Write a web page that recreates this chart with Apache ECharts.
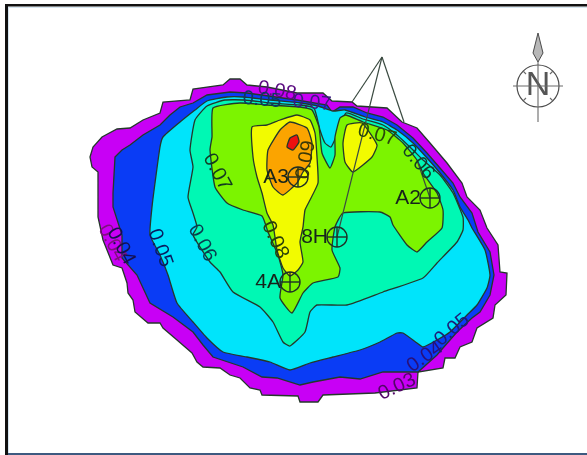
<!DOCTYPE html>
<html>
<head>
<meta charset="utf-8">
<style>
  html, body { margin: 0; background: #fff; }
  #main { width: 587px; height: 455px; filter: blur(0.5px); }
</style>
<script src="https://cdn.jsdelivr.net/npm/echarts@6/dist/echarts.min.js"></script>
</head>
<body>
<div id="main"></div>
<script>
// contour outlines, in map coordinates (x right, y down)
var band003 = [[90,157],[93,147],[102,137],[117,129],[130,128],[143,120],[160,113],[163,102],[190,100],[193,89],[223,85],[230,79],[240,79],[247,85],[267,87],[297,93],[323,93],[332,101],[352,102],[357,106],[387,108],[402,122],[417,128],[430,143],[447,163],[462,183],[467,197],[480,210],[487,228],[498,245],[500,272],[507,273],[506,295],[495,305],[493,318],[477,328],[472,342],[460,347],[455,358],[445,358],[443,368],[418,372],[417,388],[375,393],[323,395],[318,402],[300,402],[298,396],[262,395],[260,390],[250,388],[240,378],[230,375],[220,368],[203,367],[197,362],[192,353],[177,340],[163,328],[160,323],[148,323],[135,312],[133,300],[128,293],[127,283],[122,268],[113,265],[103,240],[98,217],[98,172],[92,167]];
var band004 = [[115,157],[122,150],[130,145],[143,135],[160,125],[170,115],[180,107],[193,103],[207,95],[230,92],[247,93],[297,100],[327,105],[332,112],[340,107],[353,107],[367,113],[383,117],[397,125],[413,138],[427,153],[440,168],[453,183],[460,197],[472,213],[478,232],[490,252],[494,275],[490,295],[480,312],[472,318],[457,332],[443,348],[437,355],[418,372],[407,372],[383,372],[360,379],[340,377],[313,382],[300,385],[277,378],[262,377],[243,367],[213,357],[203,345],[193,332],[173,317],[150,303],[137,275],[122,258],[122,235],[113,207],[113,193]];
var band005 = [[160,147],[163,137],[180,122],[195,110],[207,101],[227,97],[243,97],[270,100],[300,103],[318,106],[333,111],[345,110],[365,117],[383,122],[397,130],[413,143],[427,158],[440,173],[453,190],[460,207],[468,220],[472,228],[485,250],[490,275],[487,288],[477,305],[467,315],[450,332],[437,340],[423,347],[417,343],[403,333],[397,333],[380,342],[360,350],[333,357],[310,363],[290,370],[270,362],[247,357],[223,352],[207,338],[193,322],[177,303],[168,275],[160,255],[150,235],[152,207],[155,183]];
var band006 = [[195,120],[207,106],[225,100],[245,100],[270,103],[300,105],[314,108],[320,130],[325,143],[331,147],[336,137],[346,113],[363,119],[383,125],[397,135],[413,150],[423,160],[440,175],[453,193],[463,217],[463,230],[457,242],[437,263],[423,278],[383,292],[347,305],[317,305],[310,312],[305,332],[290,346],[283,342],[273,322],[260,307],[233,292],[220,272],[210,262],[193,235],[197,227],[193,213],[188,197],[193,167],[190,150]];
var band007 = [[213,108],[240,103],[267,105],[300,107],[312,110],[319,127],[322,153],[330,168],[335,155],[335,137],[340,118],[346,115],[363,122],[387,130],[403,143],[417,160],[423,173],[437,193],[443,210],[442,228],[427,242],[417,252],[407,245],[393,225],[390,217],[380,212],[343,213],[335,227],[332,250],[340,268],[338,277],[313,283],[303,293],[292,313],[280,298],[283,275],[278,255],[268,232],[262,216],[243,210],[227,203],[215,187],[210,150],[212,137]];
var band008 = [[252,127],[267,125],[280,120],[297,115],[310,120],[315,133],[317,157],[318,183],[310,200],[305,210],[303,227],[300,242],[303,262],[298,270],[290,276],[283,268],[277,250],[273,225],[267,213],[262,193],[257,177],[253,157]];
var band008b = [[347,125],[362,123],[377,145],[372,157],[353,172],[345,162],[343,143]];
var band009 = [[290,122],[307,128],[312,143],[310,163],[303,172],[297,183],[283,195],[273,187],[267,170],[268,150],[280,130]];
var band010 = [[290,138],[297,135],[299,142],[293,150],[287,147]];

var bandOutlines = [band003, band004, band005, band006, band007, band008, band008b, band009, band010];
var bandColors = ['#c800f5', '#0a3cf5', '#00e4fb', '#00f8b4', '#7cf400', '#f2fb00', '#f2fb00', '#fba400', '#ee1010'];

// well locations and names
var wellNames = ['A3', 'A2', '8H', '4A'];
var wellX = [298, 430, 337, 290];
var wellY = [177, 198, 237, 282];

// lines going out of the plan view
var calloutLines = [
  [[382, 57], [352, 102]],
  [[382, 57], [337, 237]],
  [[382, 57], [404, 122]],
  [[417, 160], [430, 198]]
];

// contour labels: text, x, y, clockwise angle
var labelTexts = ['0.08', '0.05', '0.07', '0.07', '0.06', '0.05', '0.04', '0.04', '0.08', '0.09', '0.07', '0.06', '0.05', '0.04', '0.03'];
var labelX = [277, 262, 312, 217, 202, 160, 112, 121, 275, 306, 377, 418, 452, 425, 397];
var labelY = [91, 100, 103, 172, 243, 248, 243, 246, 240, 160, 135, 162, 330, 357, 387];
var labelAngle = [10, 5, 5, 62, 62, 70, 62, 62, 65, -80, 15, 50, -40, -35, -25];
var labelColors = ['#5a0a80', '#0c3a60', '#3a1a80', '#123c20', '#083c50', '#081c60', '#80107f', '#141050', '#2a4008', '#383808', '#2a4a08', '#103c28', '#1c1c78', '#28107a', '#520668'];

// north arrow
var compassCenter = [538, 86];
var compassRadius = 21;
var compassLines = [
  [[513, 86], [563, 86]],
  [[538, 62], [538, 122]],
  [[523, 71], [526, 74]],
  [[553, 71], [550, 74]],
  [[523, 101], [526, 98]],
  [[553, 101], [550, 98]]
];
var compassNeedle = [[538, 33], [533, 53], [538, 62], [543, 53]];

var chart = echarts.init(document.getElementById('main'), null, { renderer: 'canvas' });

function toPixels(api, pts) {
  return pts.map(function (p) { return api.coord(p); });
}

function lineEl(api, seg, color, width) {
  var a = api.coord(seg[0]);
  var b = api.coord(seg[1]);
  return {
    type: 'line',
    shape: { x1: a[0], y1: a[1], x2: b[0], y2: b[1] },
    style: { stroke: color, lineWidth: width }
  };
}

var option = {
  animation: false,
  backgroundColor: '#fff',
  grid: { left: 0, right: 0, top: 0, bottom: 0 },
  xAxis: { type: 'value', min: 0, max: 587, show: false },
  yAxis: { type: 'value', min: 0, max: 455, inverse: true, show: false },
  // picture frame
  graphic: [
    { type: 'rect', shape: { x: 5, y: 4, width: 582, height: 2.5 }, style: { fill: '#111' }, z: 100 },
    { type: 'rect', shape: { x: 5, y: 4, width: 3, height: 451 }, style: { fill: '#111' }, z: 100 },
    { type: 'rect', shape: { x: 8, y: 7, width: 579, height: 1 }, style: { fill: '#d6e6f0' }, z: 100 },
    { type: 'rect', shape: { x: 8, y: 7, width: 1, height: 448 }, style: { fill: '#d6e6f0' }, z: 100 },
    { type: 'rect', shape: { x: 8, y: 453, width: 579, height: 2 }, style: { fill: '#3d5a80' }, z: 100 }
  ],
  series: [
    {
      type: 'custom',
      name: 'contours',
      coordinateSystem: 'cartesian2d',
      silent: true,
      data: bandOutlines.map(function (b, i) { return [i]; }),
      renderItem: function (params, api) {
        var i = params.dataIndex;
        return {
          type: 'polygon',
          shape: { points: toPixels(api, bandOutlines[i]), smooth: i > 1 ? 0.15 : 0 },
          style: { fill: bandColors[i], stroke: '#24382a', lineWidth: 1.3 }
        };
      }
    },
    {
      type: 'custom',
      name: 'callouts',
      coordinateSystem: 'cartesian2d',
      silent: true,
      z: 3,
      data: calloutLines.map(function (b, i) { return [i]; }),
      renderItem: function (params, api) {
        return lineEl(api, calloutLines[params.dataIndex], '#3a4a40', 1.2);
      }
    },
    {
      type: 'custom',
      name: 'wells',
      coordinateSystem: 'cartesian2d',
      silent: true,
      z: 4,
      data: wellNames.map(function (n, i) { return [wellX[i], wellY[i]]; }),
      renderItem: function (params, api) {
        var i = params.dataIndex;
        var c = api.coord([wellX[i], wellY[i]]);
        return {
          type: 'group',
          children: [
            { type: 'circle', shape: { cx: c[0], cy: c[1], r: 10 }, style: { fill: 'none', stroke: '#1e3026', lineWidth: 1.4 } },
            { type: 'line', shape: { x1: c[0] - 10, y1: c[1], x2: c[0] + 10, y2: c[1] }, style: { stroke: '#1e3026', lineWidth: 1.4 } },
            { type: 'line', shape: { x1: c[0], y1: c[1] - 10, x2: c[0], y2: c[1] + 10 }, style: { stroke: '#1e3026', lineWidth: 1.4 } },
            {
              type: 'text', x: c[0] - 9, y: c[1],
              style: { text: wellNames[i], fill: '#16241b', font: '21px "Liberation Sans"', align: 'right', verticalAlign: 'middle' }
            }
          ]
        };
      }
    },
    {
      type: 'custom',
      name: 'contour labels',
      coordinateSystem: 'cartesian2d',
      silent: true,
      z: 5,
      data: labelTexts.map(function (t, i) { return [labelX[i], labelY[i]]; }),
      renderItem: function (params, api) {
        var i = params.dataIndex;
        var c = api.coord([labelX[i], labelY[i]]);
        return {
          type: 'text', x: c[0], y: c[1],
          rotation: -labelAngle[i] * Math.PI / 180,
          style: { text: labelTexts[i], fill: labelColors[i], font: '20px "Liberation Sans"', align: 'center', verticalAlign: 'middle' }
        };
      }
    },
    {
      type: 'custom',
      name: 'north arrow',
      coordinateSystem: 'cartesian2d',
      silent: true,
      z: 5,
      data: [compassCenter],
      renderItem: function (params, api) {
        var c = api.coord(compassCenter);
        var kids = [
          { type: 'circle', shape: { cx: c[0], cy: c[1], r: compassRadius }, style: { fill: 'none', stroke: '#4a4a4a', lineWidth: 1.2 } },
          { type: 'polygon', shape: { points: toPixels(api, compassNeedle) }, style: { fill: '#b8b8b8', stroke: '#4a4a4a', lineWidth: 1 } },
          {
            type: 'text', x: c[0], y: c[1],
            style: { text: 'N', fill: '#555', font: '34px "Liberation Sans"', align: 'center', verticalAlign: 'middle' }
          }
        ];
        compassLines.forEach(function (seg) { kids.push(lineEl(api, seg, '#6a6a6a', 1.1)); });
        return { type: 'group', children: kids };
      }
    }
  ]
};

chart.setOption(option);
</script>
</body>
</html>
